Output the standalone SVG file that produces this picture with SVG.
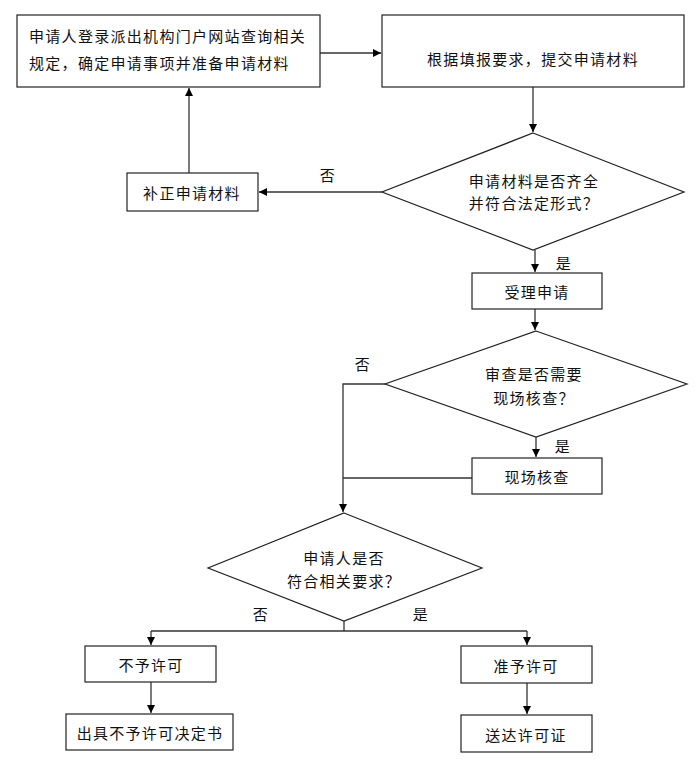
<svg xmlns="http://www.w3.org/2000/svg" width="696" height="773" viewBox="0 0 696 773">
<style>
.box{fill:#fff;stroke:#222;stroke-width:1.2}
.t{font-family:"Noto Sans CJK SC","Liberation Sans",sans-serif;font-size:15px;fill:#111;letter-spacing:1.3px}
.c{text-anchor:middle;dominant-baseline:central}
.l{dominant-baseline:central}
.ln{fill:none;stroke:#333;stroke-width:1.3}
</style>
<defs>
<marker id="ah" markerWidth="10" markerHeight="10" refX="9" refY="5" orient="auto" markerUnits="userSpaceOnUse">
<path d="M1,1 L9,5 L1,9 Z" fill="#000"/>
</marker>
</defs>
<rect width="696" height="773" fill="#fff"/>
<g id="connectors">
<path class="ln" d="M320,53 H381" marker-end="url(#ah)"/>
<path class="ln" d="M533,87 V132" marker-end="url(#ah)"/>
<path class="ln" d="M382,192 H259" marker-end="url(#ah)"/>
<path class="ln" d="M189,173 V88" marker-end="url(#ah)"/>
<path class="ln" d="M535,250 V272" marker-end="url(#ah)"/>
<path class="ln" d="M535,309 V330" marker-end="url(#ah)"/>
<path class="ln" d="M536,437 V457" marker-end="url(#ah)"/>
<path class="ln" d="M385,384 H343 V512" marker-end="url(#ah)"/>
<path class="ln" d="M472,478 H343"/>
<path class="ln" d="M344,621 V631"/>
<path class="ln" d="M151,631 H527"/>
<path class="ln" d="M151,631 V645" marker-end="url(#ah)"/>
<path class="ln" d="M527,631 V645" marker-end="url(#ah)"/>
<path class="ln" d="M151,682 V713" marker-end="url(#ah)"/>
<path class="ln" d="M527,683 V714" marker-end="url(#ah)"/>
<text class="t c" x="328" y="174">否</text>
<text class="t c" x="564" y="262">是</text>
<text class="t c" x="363" y="363">否</text>
<text class="t c" x="563" y="445">是</text>
<text class="t c" x="261" y="613">否</text>
<text class="t c" x="421" y="613">是</text>
</g>
<g id="n1">
<rect class="box" x="17" y="15" width="303" height="72"/>
<text class="t l" x="29" y="35">申请人登录派出机构门户网站查询相关</text>
<text class="t l" x="29" y="62">规定，确定申请事项并准备申请材料</text>
</g>
<g id="n2">
<rect class="box" x="382" y="15" width="302" height="72"/>
<text class="t c" x="533" y="58">根据填报要求，提交申请材料</text>
</g>
<g id="d1">
<polygon class="box" points="533,133 684,192 533,250 382,192"/>
<text class="t c" x="534" y="180">申请材料是否齐全</text>
<text class="t c" x="534" y="202">并符合法定形式？</text>
</g>
<g id="n3">
<rect class="box" x="127" y="173" width="131" height="38"/>
<text class="t c" x="192" y="192">补正申请材料</text>
</g>
<g id="n4">
<rect class="box" x="472" y="273" width="130" height="36"/>
<text class="t c" x="537" y="291">受理申请</text>
</g>
<g id="d2">
<polygon class="box" points="536,331 687,384 536,437 385,384"/>
<text class="t c" x="534" y="373">审查是否需要</text>
<text class="t c" x="534" y="397">现场核查？</text>
</g>
<g id="n5">
<rect class="box" x="472" y="458" width="130" height="36"/>
<text class="t c" x="537" y="476">现场核查</text>
</g>
<g id="d3">
<polygon class="box" points="344,513 482,568 344,621 208,568"/>
<text class="t c" x="344" y="557">申请人是否</text>
<text class="t c" x="344" y="580">符合相关要求？</text>
</g>
<g id="n6">
<rect class="box" x="85" y="646" width="131" height="36"/>
<text class="t c" x="151" y="664">不予许可</text>
</g>
<g id="n7">
<rect class="box" x="66" y="714" width="167" height="36"/>
<text class="t c" x="150" y="732">出具不予许可决定书</text>
</g>
<g id="n8">
<rect class="box" x="461" y="646" width="131" height="37"/>
<text class="t c" x="526" y="665">准予许可</text>
</g>
<g id="n9">
<rect class="box" x="461" y="715" width="131" height="37"/>
<text class="t c" x="526" y="734">送达许可证</text>
</g>
</svg>
